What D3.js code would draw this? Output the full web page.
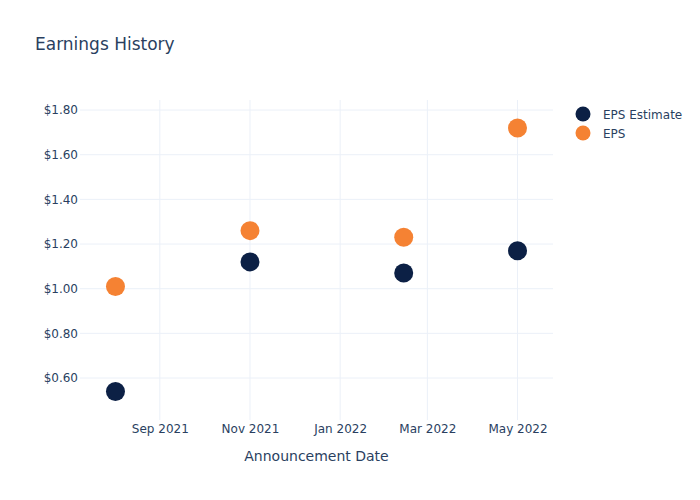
<!DOCTYPE html>
<html><head><meta charset="utf-8">
<script src="https://cdn.jsdelivr.net/npm/d3@7"></script>
<style>body{margin:0;background:#fff}svg{font-family:"DejaVu Sans",Verdana,sans-serif}</style>
</head><body>
<svg id="c" width="700" height="500"></svg>
<script>
const dates = ["2021-08-02", "2021-11-01", "2022-02-13", "2022-05-01"];
const epsEstimate = [0.54, 1.12, 1.07, 1.17];
const eps = [1.01, 1.26, 1.23, 1.72];
const yTicks = [0.6, 0.8, 1.0, 1.2, 1.4, 1.6, 1.8];
const xTickDates = ["2021-09-01", "2021-11-01", "2022-01-01", "2022-03-01", "2022-05-01"];
const seriesNames = ["EPS Estimate", "EPS"];
const colors = ["#0c2045", "#f58233"];

const parse = d3.utcParse("%Y-%m-%d");
const svg = d3.select("#c");
const L = 80, R = 553, T = 100, B = 420;
const textColor = "#2a3f5f";
const x = d3.scaleUtc().domain([parse("2021-07-09"), parse("2022-05-25")]).range([L, R]);
const y = d3.scaleLinear().domain([0.412, 1.845]).range([B, T]);

// grid
const g = svg.append("g");
g.selectAll(".vx").data(xTickDates).join("line")
  .attr("x1", d => x(parse(d))).attr("x2", d => x(parse(d)))
  .attr("y1", T).attr("y2", B).attr("stroke", "#ebf0f8").attr("stroke-width", 1);
g.selectAll(".hy").data(yTicks).join("line")
  .attr("x1", L).attr("x2", R)
  .attr("y1", d => y(d)).attr("y2", d => y(d)).attr("stroke", "#ebf0f8").attr("stroke-width", 1);

// axes
const fmtDate = d3.utcFormat("%b %Y");
const xAxis = d3.axisBottom(x).tickValues(xTickDates.map(parse)).tickFormat(fmtDate).tickSize(0).tickPadding(4);
const xa = svg.append("g").attr("transform", `translate(0,${B})`).call(xAxis);
xa.select(".domain").remove();
xa.selectAll("text").attr("fill", textColor).style("font-size", "12px").style("font-family", "DejaVu Sans");

const yAxis = d3.axisLeft(y).tickValues(yTicks).tickFormat(d => "$" + d3.format(".2f")(d)).tickSize(0).tickPadding(2);
const ya = svg.append("g").attr("transform", `translate(${L},0)`).call(yAxis);
ya.select(".domain").remove();
ya.selectAll("text").attr("fill", textColor).style("font-size", "12px").style("font-family", "DejaVu Sans");

// points
const series = [epsEstimate, eps];
series.forEach((vals, si) => {
  svg.append("g").selectAll("circle").data(vals).join("circle")
    .attr("cx", (d, i) => x(parse(dates[i])))
    .attr("cy", d => y(d))
    .attr("r", 9.5)
    .attr("fill", colors[si]);
});

// title
svg.append("text").attr("x", 35).attr("y", 50).attr("fill", textColor)
  .style("font-size", "17px").text("Earnings History");

// x axis title
svg.append("text").attr("x", (L + R) / 2).attr("y", 461).attr("text-anchor", "middle")
  .attr("fill", textColor).style("font-size", "14px").text("Announcement Date");

// legend
const lg = svg.append("g");
seriesNames.forEach((n, i) => {
  lg.append("circle").attr("cx", 583).attr("cy", 114 + i * 19).attr("r", 7.5).attr("fill", colors[i]);
  lg.append("text").attr("x", 603).attr("y", 118.5 + i * 19).attr("fill", textColor)
    .style("font-size", "12px").text(n);
});
</script>
</body></html>
